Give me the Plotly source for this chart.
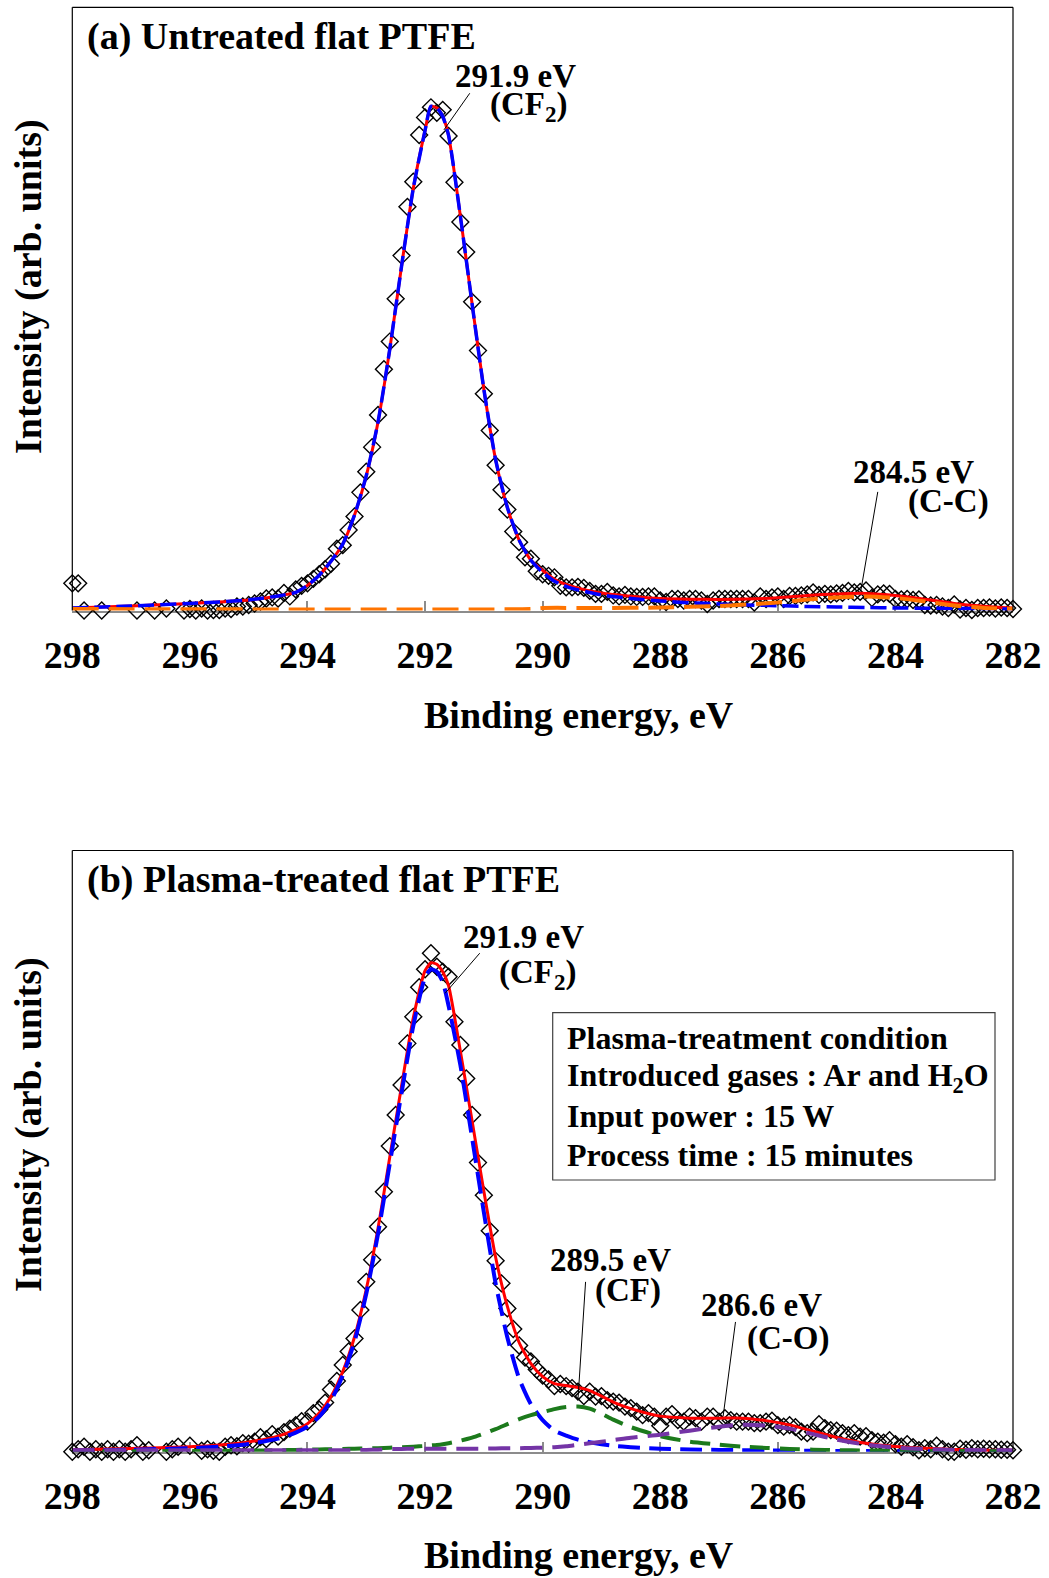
import plotly.graph_objects as go

# ---------------- (a) untreated flat PTFE : C 1s spectrum ----------------
meas_a_e = [298.0, 297.9, 297.8, 297.5, 296.9, 296.6, 296.4, 296.1, 296.0, 295.9, 295.8, 295.7,
            295.6, 295.5, 295.4, 295.3, 295.2, 295.1, 295.0, 294.9, 294.8, 294.7, 294.6, 294.5,
            294.4, 294.3, 294.2, 294.1, 294.0, 293.9, 293.8, 293.7, 293.6, 293.5, 293.4, 293.3,
            293.2, 293.1, 293.0, 292.9, 292.8, 292.7, 292.6, 292.5, 292.4, 292.3, 292.2, 292.1,
            292.0, 291.9, 291.8, 291.7, 291.6, 291.5, 291.4, 291.3, 291.2, 291.1, 291.0, 290.9,
            290.8, 290.7, 290.6, 290.5, 290.4, 290.3, 290.2, 290.1, 290.0, 289.9, 289.8, 289.7,
            289.6, 289.5, 289.4, 289.3, 289.2, 289.1, 289.0, 288.9, 288.8, 288.7, 288.6, 288.5,
            288.4, 288.3, 288.2, 288.1, 288.0, 287.9, 287.8, 287.7, 287.6, 287.5, 287.4, 287.3,
            287.2, 287.1, 287.0, 286.9, 286.8, 286.7, 286.6, 286.5, 286.4, 286.3, 286.2, 286.1,
            286.0, 285.9, 285.8, 285.7, 285.6, 285.5, 285.4, 285.3, 285.2, 285.1, 285.0, 284.9,
            284.8, 284.7, 284.6, 284.5, 284.4, 284.3, 284.2, 284.1, 284.0, 283.9, 283.8, 283.7,
            283.6, 283.5, 283.4, 283.3, 283.2, 283.1, 283.0, 282.9, 282.8, 282.7, 282.6, 282.5,
            282.4, 282.3, 282.2, 282.1, 282.0]
meas_a_i = [5.4, 5.4, 0.0, 0.0, 0.0, 0.0, 0.4, 0.0, 0.3, 0.0, 0.4, 0.0,
            0.1, 0.1, 0.4, 0.3, 0.8, 0.8, 1.1, 1.4, 1.8, 2.4, 2.6, 2.4,
            3.5, 2.8, 4.2, 4.9, 5.4, 6.3, 7.2, 8.2, 9.3, 12.3, 13.0, 16.0,
            18.7, 23.5, 27.6, 32.5, 38.9, 48.0, 53.5, 62.0, 70.6, 80.3, 85.3, 94.6,
            98.1, 100.1, 99.0, 99.6, 94.4, 85.2, 77.3, 71.3, 61.4, 51.7, 43.1, 35.8,
            28.9, 24.0, 20.1, 15.7, 13.6, 10.6, 10.3, 7.8, 7.2, 6.9, 6.6, 4.9,
            4.6, 4.6, 4.7, 4.5, 3.9, 3.3, 3.3, 3.7, 3.0, 2.8, 3.1, 2.8,
            2.7, 2.7, 2.8, 2.8, 2.0, 1.7, 2.3, 2.3, 2.0, 2.3, 2.3, 2.0,
            1.3, 2.0, 2.3, 2.3, 2.3, 2.3, 2.3, 2.3, 1.6, 2.8, 2.3, 2.6,
            2.8, 2.3, 2.9, 2.9, 3.0, 3.2, 3.6, 3.1, 3.3, 3.2, 3.4, 3.5,
            3.9, 3.6, 3.7, 4.0, 2.5, 3.2, 3.4, 3.3, 2.3, 2.2, 2.3, 2.1,
            2.2, 1.1, 1.0, 1.1, 0.8, 0.5, 1.2, 0.2, 0.5, 0.1, 0.5, 0.5,
            0.6, 0.4, 0.6, 0.5, 0.3]

fit_a_e = [298.0, 297.0, 296.0, 295.5, 295.0, 294.5, 294.2, 294.0, 293.8, 293.6, 293.4, 293.2,
           293.0, 292.8, 292.6, 292.4, 292.2, 292.0, 291.9, 291.8, 291.7, 291.6, 291.4, 291.2,
           291.0, 290.8, 290.6, 290.4, 290.2, 290.0, 289.8, 289.5, 289.0, 288.5, 288.0, 287.5,
           287.0, 286.5, 286.0, 285.5, 285.0, 284.5, 284.0, 283.5, 283.0, 282.5, 282.0]
envelope_a = [0.5, 0.9, 1.4, 1.7, 2.1, 2.9, 3.6, 5.0, 7.0, 9.8, 13.2, 19.0,
              26.8, 37.5, 52.0, 68.5, 84.0, 95.5, 100.3, 100.0, 98.3, 94.5, 78.5, 61.0,
              44.0, 30.0, 20.5, 14.0, 10.0, 8.0, 6.2, 4.8, 3.5, 2.85, 2.4, 2.25,
              2.2, 2.3, 2.55, 3.0, 3.3, 3.4, 3.0, 2.25, 1.4, 0.85, 0.5]
cf2_a = [0.5, 0.9, 1.4, 1.7, 2.1, 2.9, 3.6, 5.0, 7.0, 9.8, 13.2, 19.0,
         26.8, 37.5, 52.0, 68.5, 84.0, 95.5, 100.3, 100.0, 98.3, 94.5, 78.5, 61.0,
         44.0, 30.0, 20.5, 14.0, 10.0, 7.6, 5.8, 4.4, 3.1, 2.4, 1.9, 1.55,
         1.3, 1.1, 0.95, 0.8, 0.7, 0.6, 0.5, 0.45, 0.4, 0.35, 0.3]
cc_a_e = [298.0, 290.2, 290.0, 289.0, 288.0, 287.0, 286.5, 286.0, 285.5, 285.0, 284.5, 284.0,
          283.5, 283.0, 282.5, 282.0]
cc_a = [0.3, 0.3, 0.5, 0.5, 0.6, 0.9, 1.2, 1.6, 2.2, 2.6, 2.8, 2.5,
        1.8, 1.0, 0.5, 0.3]

# ---------------- (b) plasma-treated flat PTFE ----------------
meas_b_e = [298.0, 297.9, 297.8, 297.7, 297.6, 297.5, 297.4, 297.3, 297.2, 297.1, 297.0, 296.9,
            296.8, 296.7, 296.4, 296.3, 296.2, 296.0, 295.8, 295.7, 295.6, 295.5, 295.4, 295.3,
            295.2, 295.1, 295.0, 294.9, 294.8, 294.7, 294.6, 294.5, 294.4, 294.3, 294.2, 294.1,
            294.0, 293.9, 293.8, 293.7, 293.6, 293.5, 293.4, 293.3, 293.2, 293.1, 293.0, 292.9,
            292.8, 292.7, 292.6, 292.5, 292.4, 292.3, 292.2, 292.1, 292.0, 291.9, 291.8, 291.7,
            291.6, 291.5, 291.4, 291.3, 291.2, 291.1, 291.0, 290.9, 290.8, 290.7, 290.6, 290.5,
            290.4, 290.3, 290.2, 290.1, 290.0, 289.9, 289.8, 289.7, 289.6, 289.5, 289.4, 289.3,
            289.2, 289.1, 289.0, 288.9, 288.8, 288.7, 288.6, 288.5, 288.4, 288.3, 288.2, 288.1,
            288.0, 287.9, 287.8, 287.7, 287.6, 287.5, 287.4, 287.3, 287.2, 287.1, 287.0, 286.9,
            286.8, 286.7, 286.6, 286.5, 286.4, 286.3, 286.2, 286.1, 286.0, 285.9, 285.8, 285.7,
            285.6, 285.5, 285.4, 285.3, 285.2, 285.1, 285.0, 284.9, 284.8, 284.7, 284.6, 284.5,
            284.4, 284.3, 284.2, 284.1, 284.0, 283.9, 283.8, 283.7, 283.6, 283.5, 283.4, 283.3,
            283.2, 283.1, 283.0, 282.9, 282.8, 282.7, 282.6, 282.5, 282.4, 282.3, 282.2, 282.1,
            282.0]
meas_b_i = [0.0, 0.5, 1.0, 0.0, 0.5, 0.0, 0.5, 0.0, 0.5, 0.0, 0.5, 1.3,
            0.0, 0.3, 0.0, 0.5, 1.0, 1.2, 0.2, 0.5, 0.2, 0.0, 1.0, 1.3,
            1.1, 1.7, 1.6, 2.0, 2.9, 2.5, 3.5, 3.0, 3.9, 4.6, 5.3, 6.1,
            6.0, 7.7, 8.4, 9.8, 12.4, 14.1, 17.3, 20.0, 22.6, 28.3, 33.9, 38.3,
            44.9, 51.9, 61.0, 67.2, 73.2, 81.5, 86.8, 92.7, 96.3, 99.5, 96.8, 95.8,
            94.8, 85.8, 81.2, 74.5, 67.2, 57.7, 51.2, 44.1, 38.1, 33.6, 28.6, 24.5,
            21.2, 18.8, 18.0, 16.4, 15.2, 14.4, 13.1, 13.5, 13.1, 12.7, 12.0, 11.1,
            12.0, 11.0, 11.1, 10.3, 10.0, 9.8, 9.0, 8.7, 8.0, 7.3, 7.7, 7.0,
            5.2, 7.0, 7.5, 6.3, 6.0, 7.0, 6.7, 6.0, 7.0, 7.0, 6.0, 6.7,
            6.3, 6.0, 6.0, 6.0, 5.7, 5.7, 6.0, 6.2, 5.3, 5.0, 5.3, 4.9,
            4.0, 3.7, 4.0, 5.5, 4.7, 4.3, 4.2, 3.7, 3.3, 3.7, 3.0, 3.1,
            2.3, 2.0, 1.8, 2.3, 1.5, 1.0, 1.5, 0.9, 0.3, 0.7, 0.5, 1.2,
            0.5, 0.0, 0.0, 0.6, 0.4, 0.7, 0.5, 0.6, 0.5, 0.5, 0.4, 0.4,
            0.3]

fit_b_e = [298.0, 297.0, 296.0, 295.5, 295.0, 294.5, 294.2, 294.0, 293.8, 293.6, 293.4, 293.2,
           293.0, 292.8, 292.6, 292.4, 292.2, 292.0, 291.9, 291.8, 291.7, 291.6, 291.4, 291.2,
           291.0, 290.8, 290.6, 290.4, 290.2, 290.0, 289.8, 289.6, 289.4, 289.2, 289.0, 288.8,
           288.5, 288.0, 287.5, 287.0, 286.6, 286.2, 285.8, 285.4, 285.0, 284.5, 284.0, 283.5,
           283.0, 282.5, 282.0]
envelope_b = [0.4, 0.65, 1.0, 1.35, 1.95, 3.1, 4.4, 5.6, 7.7, 11.0, 16.0, 22.9,
              32.4, 44.6, 58.8, 73.0, 86.6, 96.0, 97.6, 97.3, 95.8, 93.0, 80.0, 66.0,
              52.0, 38.8, 29.0, 21.8, 17.6, 15.0, 13.6, 13.2, 12.8, 12.2, 11.1, 9.9,
              8.6, 7.1, 6.7, 6.7, 6.7, 6.2, 5.35, 4.1, 2.85, 1.7, 1.05, 0.7,
              0.45, 0.3, 0.3]
cf2_b = [0.2, 0.4, 0.7, 1.0, 1.55, 2.6, 3.8, 5.0, 7.0, 10.2, 15.2, 22.0,
         31.5, 43.5, 57.5, 71.6, 85.0, 94.7, 96.3, 95.8, 93.8, 89.0, 77.2, 62.6,
         47.8, 33.6, 22.8, 14.6, 9.5, 6.3, 4.2, 3.2, 2.4, 1.9, 1.5, 1.2,
         0.9, 0.6, 0.45, 0.35, 0.3, 0.25, 0.2, 0.18, 0.15, 0.12, 0.1, 0.08,
         0.06, 0.05, 0.05]
cf_b = [0.1, 0.1, 0.15, 0.15, 0.2, 0.3, 0.35, 0.4, 0.45, 0.5, 0.55, 0.6,
        0.65, 0.7, 0.8, 0.9, 1.0, 1.15, 1.25, 1.35, 1.5, 1.7, 2.2, 2.8,
        3.6, 4.5, 5.5, 6.5, 7.3, 7.9, 8.5, 8.9, 9.0, 8.6, 7.6, 6.4,
        4.9, 3.1, 2.0, 1.4, 1.0, 0.75, 0.55, 0.4, 0.3, 0.25, 0.2, 0.15,
        0.15, 0.1, 0.1]
co_b = [0.3, 0.3, 0.3, 0.3, 0.3, 0.3, 0.3, 0.3, 0.3, 0.3, 0.3, 0.3,
        0.35, 0.4, 0.5, 0.55, 0.6, 0.6, 0.6, 0.6, 0.6, 0.6, 0.6, 0.6,
        0.6, 0.65, 0.7, 0.7, 0.75, 0.8, 0.9, 1.1, 1.4, 1.7, 2.0, 2.3,
        2.8, 3.4, 4.2, 5.0, 5.4, 5.2, 4.6, 3.5, 2.4, 1.4, 0.8, 0.5,
        0.35, 0.3, 0.3]

tick_vals = [298, 296, 294, 292, 290, 288, 286, 284, 282]
tick_text = [str(v) for v in tick_vals]

FONT = "Liberation Serif"
W, H = 1049, 1578

RED = "#FF0000"
BLUE = "#0000FF"
ORANGE = "#FF7400"
GREEN = "#1C7A1C"
PURPLE = "#7434A6"


def measured(x, y, xa, ya):
    return go.Scatter(x=x, y=y, xaxis=xa, yaxis=ya, mode="markers", cliponaxis=False,
                      marker=dict(symbol="diamond-open", size=13, color="black",
                                  line=dict(width=1.4, color="black")),
                      showlegend=False, hoverinfo="x+y")


def curve(x, y, xa, ya, color, width, dash):
    return go.Scatter(x=x, y=y, xaxis=xa, yaxis=ya, mode="lines",
                      line=dict(color=color, width=width, dash=dash, shape="spline", smoothing=0.6),
                      showlegend=False, hoverinfo="skip")


fig = go.Figure()
# panel (a)
fig.add_trace(measured(meas_a_e, meas_a_i, "x", "y"))
fig.add_trace(curve(fit_a_e, envelope_a, "x", "y", RED, 3, "solid"))
fig.add_trace(curve(fit_a_e, cf2_a, "x", "y", BLUE, 3.5, "16px,6px"))
fig.add_trace(curve(cc_a_e, cc_a, "x", "y", ORANGE, 4, "26px,10px"))
# panel (b)
fig.add_trace(measured(meas_b_e, meas_b_i, "x2", "y2"))
fig.add_trace(curve(fit_b_e, envelope_b, "x2", "y2", RED, 3, "solid"))
fig.add_trace(curve(fit_b_e, cf2_b, "x2", "y2", BLUE, 4, "22px,9px"))
fig.add_trace(curve(fit_b_e, cf_b, "x2", "y2", GREEN, 4, "20px,10px"))
fig.add_trace(curve(fit_b_e, co_b, "x2", "y2", PURPLE, 4, "22px,10px"))

x_dom = [72.3 / W, 1013.0 / W]
ya_dom = [1 - 610.5 / H, 1 - 7.3 / H]
yb_dom = [1 - 1451.7 / H, 1 - 850.5 / H]

xaxis_style = dict(domain=x_dom, range=[298, 282], showline=True, linecolor="#8C8C8C",
                   linewidth=2, ticks="inside", ticklen=10, tickwidth=1.5, tickcolor="#8C8C8C",
                   tickvals=tick_vals, ticktext=tick_text, showgrid=False, zeroline=False,
                   tickfont=dict(family=FONT, size=38, color="black", weight="bold"),
                   ticklabelstandoff=10, automargin=False, layer="below traces")
yaxis_style = dict(range=[0, 120], showline=False, showticklabels=False, ticks="",
                   showgrid=False, zeroline=False, automargin=False)

fig.update_layout(
    width=W, height=H, margin=dict(l=0, r=0, t=0, b=0, autoexpand=False),
    paper_bgcolor="white", plot_bgcolor="white",
    xaxis=dict(anchor="y", **xaxis_style),
    yaxis=dict(domain=ya_dom, anchor="x", **yaxis_style),
    xaxis2=dict(anchor="y2", **xaxis_style),
    yaxis2=dict(domain=yb_dom, anchor="x2", **yaxis_style),
    showlegend=False,
)

# plot-area frame (left, top, right)
for xr, yr in (("x domain", "y domain"), ("x2 domain", "y2 domain")):
    for x0, y0, x1, y1 in ((0, 0, 0, 1), (0, 1, 1, 1), (1, 0, 1, 1)):
        fig.add_shape(type="line", xref=xr, yref=yr, x0=x0, y0=y0, x1=x1, y1=y1,
                      line=dict(color="black", width=1.2))

# leader lines for the peak labels (data coordinates)
leaders = [("x", "y", 291.24, 102.9, 291.68, 95.6),
           ("x", "y", 284.30, 23.6, 284.59, 3.8),
           ("x2", "y2", 291.07, 99.5, 291.66, 91.5),
           ("x2", "y2", 289.27, 33.9, 289.40, 10.3),
           ("x2", "y2", 286.72, 25.9, 286.93, 7.1)]
for xr, yr, x0, y0, x1, y1 in leaders:
    fig.add_shape(type="line", xref=xr, yref=yr, x0=x0, y0=y0, x1=x1, y1=y1,
                  line=dict(color="black", width=1))

# peak labels
peak_labels = [("x", "y", 290.46, 106.3, "291.9 eV"),
               ("x", "y", 290.24, 100.2, "(CF<sub>2</sub>)"),
               ("x", "y", 283.69, 27.5, "284.5 eV"),
               ("x", "y", 283.09, 21.6, "(C-C)"),
               ("x2", "y2", 290.33, 102.7, "291.9 eV"),
               ("x2", "y2", 290.08, 95.2, "(CF<sub>2</sub>)"),
               ("x2", "y2", 288.85, 38.3, "289.5 eV"),
               ("x2", "y2", 288.55, 32.1, "(CF)"),
               ("x2", "y2", 286.27, 29.3, "286.6 eV"),
               ("x2", "y2", 285.82, 22.6, "(C-O)")]
for xr, yr, x, y, txt in peak_labels:
    fig.add_annotation(xref=xr, yref=yr, x=x, y=y, text=txt, showarrow=False,
                       xanchor="center", yanchor="middle",
                       font=dict(family=FONT, size=33, color="black", weight="bold"))

# panel titles
for y_px, txt in ((37, "(a) Untreated flat PTFE"), (880, "(b) Plasma-treated flat PTFE")):
    fig.add_annotation(xref="paper", yref="paper", x=85 / W, y=1 - y_px / H, text=txt,
                       showarrow=False, xanchor="left", yanchor="middle",
                       font=dict(family=FONT, size=38, color="black", weight="bold"))

# axis titles
for y_px in (715, 1555):
    fig.add_annotation(xref="paper", yref="paper", x=579 / W, y=1 - y_px / H,
                       text="Binding energy, eV", showarrow=False,
                       xanchor="center", yanchor="middle",
                       font=dict(family=FONT, size=38, color="black", weight="bold"))
for y_px in (287, 1125):
    fig.add_annotation(xref="paper", yref="paper", x=28 / W, y=1 - y_px / H,
                       text="Intensity (arb. units)", showarrow=False, textangle=-90,
                       xanchor="center", yanchor="middle",
                       font=dict(family=FONT, size=38, color="black", weight="bold"))

# treatment-condition box in panel (b)
fig.add_shape(type="rect", xref="paper", yref="paper",
              x0=552.7 / W, x1=995 / W, y0=1 - 1180 / H, y1=1 - 1012.7 / H,
              line=dict(color="#404040", width=1.2), fillcolor="white", layer="below")
box_lines = ["Plasma-treatment condition",
             "Introduced gases : Ar and H<sub>2</sub>O",
             "Input power : 15 W",
             "Process time : 15 minutes"]
for i, txt in enumerate(box_lines):
    fig.add_annotation(xref="paper", yref="paper", x=565 / W, y=1 - (1038 + 39 * i) / H,
                       text=txt, showarrow=False, xanchor="left", yanchor="middle",
                       font=dict(family=FONT, size=32, color="black", weight="bold"))

fig.write_html("out.html")
